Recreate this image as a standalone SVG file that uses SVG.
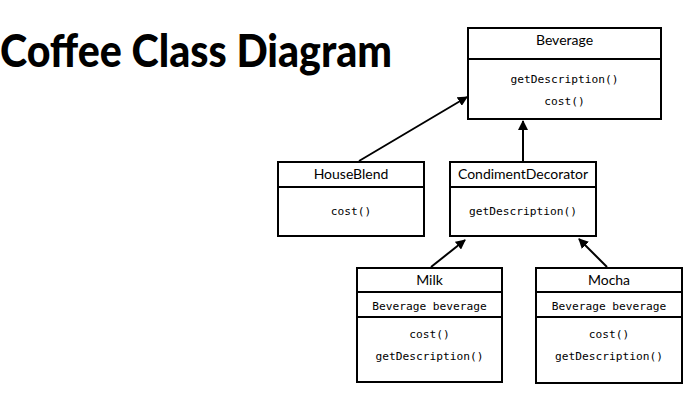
<svg xmlns="http://www.w3.org/2000/svg" width="700" height="412" viewBox="0 0 700 412">
<style>
.box{fill:#fff;stroke:#000;stroke-width:2}
.div{stroke:#000;stroke-width:2}
.t{font-family:Lato,"Noto Sans",sans-serif;font-size:14px;text-anchor:middle;fill:#000}
.m{font-family:"DejaVu Sans Mono",monospace;font-size:11.2px;text-anchor:middle;fill:#000}
.c{stroke:#000;stroke-width:2;fill:none;marker-end:url(#ah)}
</style>
<defs>
<marker id="ah" viewBox="0 0 10 10" refX="9" refY="5" markerWidth="5" markerHeight="5" orient="auto" markerUnits="strokeWidth">
<path d="M0,0 L10,5 L0,10 z" fill="#000"/>
</marker>
</defs>
<rect width="700" height="412" fill="#fff"/>
<text x="0" y="67" font-family="Lato,sans-serif" font-weight="900" font-size="46" textLength="392" lengthAdjust="spacingAndGlyphs">Coffee Class Diagram</text>
<g id="connectors">
<line class="c" x1="359" y1="161" x2="467" y2="97"/>
<line class="c" x1="523" y1="161" x2="523" y2="121"/>
<line class="c" x1="431" y1="267" x2="465" y2="240"/>
<line class="c" x1="607" y1="267" x2="579" y2="239"/>
</g>
<g id="beverage">
<rect class="box" x="468" y="28" width="193" height="91"/>
<line class="div" x1="468" y1="59" x2="661" y2="59"/>
<text class="t" x="564.5" y="45">Beverage</text>
<text class="m" x="564.5" y="83">getDescription()</text>
<text class="m" x="564.5" y="105">cost()</text>
</g>
<g id="houseblend">
<rect class="box" x="278" y="162" width="146" height="74"/>
<line class="div" x1="278" y1="187" x2="424" y2="187"/>
<text class="t" x="351" y="179">HouseBlend</text>
<text class="m" x="351" y="215">cost()</text>
</g>
<g id="condimentdecorator">
<rect class="box" x="450" y="162" width="146" height="74"/>
<line class="div" x1="450" y1="187" x2="596" y2="187"/>
<text class="t" x="523" y="179">CondimentDecorator</text>
<text class="m" x="523" y="215">getDescription()</text>
</g>
<g id="milk">
<rect class="box" x="357" y="268" width="145" height="114"/>
<line class="div" x1="357" y1="292" x2="502" y2="292"/>
<line class="div" x1="357" y1="317" x2="502" y2="317"/>
<text class="t" x="429.5" y="285">Milk</text>
<text class="m" x="429.5" y="310">Beverage beverage</text>
<text class="m" x="429.5" y="338">cost()</text>
<text class="m" x="429.5" y="360">getDescription()</text>
</g>
<g id="mocha">
<rect class="box" x="536" y="268" width="146" height="115"/>
<line class="div" x1="536" y1="292" x2="682" y2="292"/>
<line class="div" x1="536" y1="317" x2="682" y2="317"/>
<text class="t" x="609" y="285">Mocha</text>
<text class="m" x="609" y="310">Beverage beverage</text>
<text class="m" x="609" y="338">cost()</text>
<text class="m" x="609" y="360">getDescription()</text>
</g>
</svg>
